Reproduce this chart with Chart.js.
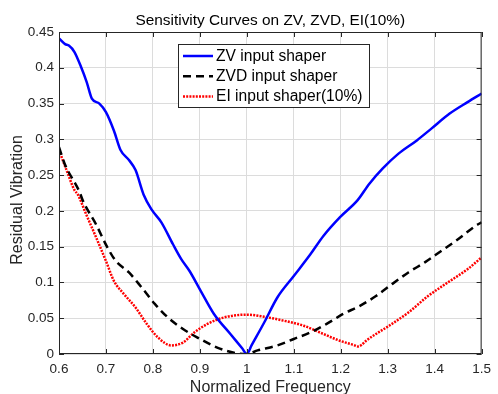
<!DOCTYPE html>
<html>
<head>
<meta charset="utf-8">
<script src="https://cdn.jsdelivr.net/npm/chart.js@4.4.0/dist/chart.umd.min.js"></script>
<style>
  html,body{margin:0;padding:0;background:#fff;}
  #wrap{width:498px;height:394px;}
</style>
</head>
<body>
<div id="wrap"><canvas id="c" width="498" height="394"></canvas></div>
<script>
/* sensitivity curves: residual vibration vs normalized frequency */
const TITLE='Sensitivity Curves on ZV, ZVD, EI(10%)';
const X_LABEL='Normalized Frequency';
const Y_LABEL='Residual Vibration';
const xTicks=[0.6,0.7,0.8,0.9,1.0,1.1,1.2,1.3,1.4,1.5];
const yTicks=[0,0.05,0.1,0.15,0.2,0.25,0.3,0.35,0.4,0.45];
const labels=['ZV input shaper','ZVD input shaper','EI input shaper(10%)'];

const zvX=[0.600,0.613,0.621,0.633,0.647,0.659,0.670,0.686,0.700,0.717,0.731,0.749,0.763,0.780,0.797,0.818,0.843,0.860,0.878,0.902,0.930,0.965,0.990,1.000,1.010,1.037,1.065,1.100,1.135,1.163,1.198,1.236,1.261,1.289,1.323,1.362,1.393,1.432,1.470,1.500];
const zvY=[0.441,0.433,0.431,0.422,0.401,0.380,0.357,0.350,0.338,0.312,0.285,0.271,0.257,0.223,0.202,0.184,0.153,0.133,0.116,0.088,0.056,0.028,0.008,0.000,0.012,0.044,0.079,0.109,0.139,0.165,0.191,0.215,0.238,0.259,0.280,0.2985,0.315,0.336,0.352,0.364];

const zvdX=[0.600,0.612,0.644,0.651,0.679,0.703,0.721,0.749,0.776,0.804,0.832,0.864,0.895,0.937,0.979,1.000,1.023,1.065,1.100,1.135,1.170,1.205,1.240,1.275,1.310,1.344,1.379,1.414,1.449,1.487,1.500];
const zvdY=[0.289,0.266,0.226,0.214,0.181,0.149,0.130,0.114,0.093,0.070,0.051,0.035,0.023,0.009,0.001,0.000,0.005,0.012,0.021,0.030,0.042,0.056,0.067,0.081,0.098,0.114,0.128,0.144,0.160,0.179,0.184];

const eiX=[0.600,0.616,0.633,0.640,0.658,0.679,0.700,0.717,0.738,0.763,0.787,0.811,0.839,0.864,0.888,0.916,0.951,1.000,1.037,1.079,1.121,1.163,1.198,1.228,1.236,1.244,1.254,1.275,1.303,1.344,1.386,1.428,1.470,1.500];
const eiY=[0.285,0.257,0.229,0.223,0.195,0.163,0.130,0.102,0.084,0.065,0.042,0.023,0.012,0.016,0.030,0.042,0.051,0.055,0.052,0.0465,0.0395,0.028,0.0185,0.0125,0.0105,0.0125,0.0185,0.028,0.0395,0.058,0.081,0.100,0.1185,0.135];

const pts=(xs,ys)=>xs.map((x,i)=>({x,y:ys[i]}));
const FONT='"Liberation Sans", Arial, sans-serif';
const TXT='#262626';

const styles=[
  {color:'#0000ff',dash:[]},
  {color:'#000000',dash:[8,5]},
  {color:'#ff0000',dash:[2,1.2]},
];

// frame, inward ticks, title, axis labels, legend box
const decor={
  id:'decor',
  afterDatasetsDraw(chart){
    const c=chart.ctx,a=chart.chartArea;
    const sx=chart.scales.x,sy=chart.scales.y;
    c.save();
    c.strokeStyle='#262626'; c.lineWidth=1;
    c.strokeRect(a.left+0.5,a.top+0.5,a.right-a.left-1,a.bottom-a.top-1);
    c.beginPath();
    xTicks.forEach(v=>{
      const px=Math.round(sx.getPixelForValue(v))+0.5;
      c.moveTo(px,a.bottom); c.lineTo(px,a.bottom-5);
      c.moveTo(px,a.top); c.lineTo(px,a.top+5);
    });
    yTicks.forEach(v=>{
      const py=Math.round(sy.getPixelForValue(v))+0.5;
      c.moveTo(a.left,py); c.lineTo(a.left+5,py);
      c.moveTo(a.right,py); c.lineTo(a.right-5,py);
    });
    c.stroke();

    c.fillStyle='#000';
    c.font='15.4px '+FONT; c.textAlign='center'; c.textBaseline='alphabetic';
    c.fillText(TITLE,(a.left+a.right)/2,25);
    c.fillStyle=TXT;
    c.font='16px '+FONT;
    c.fillText(X_LABEL,(a.left+a.right)/2,391.5);
    c.save();
    c.translate(22,200); c.rotate(-Math.PI/2);
    c.fillText(Y_LABEL,0,0);
    c.restore();

    // legend
    const lx=178,ly=44,lw=191,lh=63;
    c.fillStyle='#fff'; c.fillRect(lx,ly,lw,lh);
    c.strokeStyle='#262626'; c.lineWidth=1;
    c.strokeRect(lx+0.5,ly+0.5,lw,lh);
    c.font='15.6px '+FONT; c.textAlign='left'; c.textBaseline='middle';
    labels.forEach((t,i)=>{
      const y=ly+12+i*20.3;
      c.strokeStyle=styles[i].color; c.lineWidth=2.5; c.setLineDash(styles[i].dash);
      c.beginPath(); c.moveTo(lx+5,y); c.lineTo(lx+35,y); c.stroke();
      c.setLineDash([]);
      c.fillStyle='#000';
      c.fillText(t,lx+38,y+0.5);
    });
    c.restore();
  }
};

const series=[pts(zvX,zvY),pts(zvdX,zvdY),pts(eiX,eiY)];

new Chart(document.getElementById('c'),{
  type:'line',
  data:{datasets:series.map((d,i)=>({
    label:labels[i],data:d,
    borderColor:styles[i].color,borderDash:styles[i].dash,
    borderWidth:2.5,pointRadius:0,fill:false,
    cubicInterpolationMode:'monotone',
    borderCapStyle:'butt'
  }))},
  options:{
    responsive:false,animation:false,
    layout:{padding:{left:0,right:9,top:32,bottom:0}},
    plugins:{legend:{display:false},tooltip:{enabled:false},title:{display:false}},
    scales:{
      x:{type:'linear',min:0.6,max:1.5,
        afterBuildTicks:s=>{s.ticks=xTicks.map(v=>({value:v}));},
        afterFit:s=>{s.height=40;},
        border:{display:false},
        grid:{color:'#dcdcdc',drawTicks:false,lineWidth:1},
        ticks:{color:TXT,font:{family:FONT,size:13.5},padding:7,maxRotation:0,
          callback:v=>String(+v.toFixed(2))}
      },
      y:{type:'linear',min:0,max:0.45,
        afterBuildTicks:s=>{s.ticks=yTicks.map(v=>({value:v}));},
        afterFit:s=>{s.width=59;},
        border:{display:false},
        grid:{color:'#dcdcdc',drawTicks:false,lineWidth:1},
        ticks:{color:TXT,font:{family:FONT,size:13.5},padding:5,
          callback:v=>String(+v.toFixed(2))}
      }
    }
  },
  plugins:[decor]
});
</script>
</body>
</html>
